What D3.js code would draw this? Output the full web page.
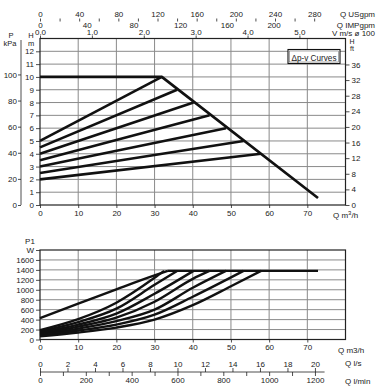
<!DOCTYPE html>
<html><head><meta charset="utf-8">
<script src="https://cdn.jsdelivr.net/npm/d3@7"></script>
<style>
body{margin:0;background:#fff;}
svg text{font-family:"Liberation Sans",Arial,sans-serif;fill:#222;}
</style></head>
<body><svg id="c" width="381" height="390"></svg>
<script>
// ---------- data ----------
const qTicks = [0,10,20,30,40,50,60,70];
const hTicks = [0,1,2,3,4,5,6,7,8,9,10,11,12];
const kpaTicks = [0,20,40,60,80,100];
const ftTicks = [0,4,8,12,16,20,24,28,32,36];
const usgpmTicks = [0,40,80,120,160,200,240,280];
const impTicks = [0,40,80,120,160,200];
const velTicks = [0,1,2,3,4,5];
const wTicks = [0,200,400,600,800,1000,1200,1400,1600];
const lsTicks = [0,2,4,6,8,10,12,14,16,18,20];
const lminTicks = [0,200,400,600,800,1000,1200];

// head curves (Q m3/h, H m)
const maxHead = [[0,10],[31.9,10],[72.8,0.55]];
const dpvStartH = [5,4.5,4,3.5,3,2.5,2];
const dpvEndQ = [31.9,35.9,40.2,44.4,48.7,53.3,57.9];
const dpvEndH = [10,9,8,7,6,5,4];

// power curves (Q m3/h, P1 W)
const powerMax = [[0,430],[10,720],[20,1010],[30,1290],[33.5,1380]];
const powerFlat = [[33.5,1380],[72.8,1380]];
const powerDpv = [
  [[0,190],[10,410],[20,740],[30,1240],[32.5,1380]],
  [[0,165],[10,350],[20,620],[30,1100],[35.9,1380]],
  [[0,145],[10,300],[20,520],[30,920],[40.2,1380]],
  [[0,125],[10,260],[20,440],[30,760],[40,1220],[44.4,1380]],
  [[0,105],[10,220],[20,370],[30,600],[40,1040],[48.7,1380]],
  [[0,85],[10,180],[20,300],[30,500],[40,860],[53.3,1380]],
  [[0,65],[10,140],[20,240],[30,400],[40,690],[50,1070],[57.9,1380]]
];

// unit conversions
const KPA_PER_M = 9.81, FT_PER_M = 3.2808;
const USGPM_PER_M3H = 3.9, IMP_PER_M3H = 3.27, V_PER_M3H = 0.0736;
const LS_PER_M3H = 1/3.6, LMIN_PER_M3H = 1000/60;

// ---------- drawing ----------
const svg = d3.select("#c");
const FS = 8;
const x = d3.scaleLinear().domain([0,80]).range([40,345.5]);
const yH = d3.scaleLinear().domain([0,13]).range([205,38.5]);
const yP = d3.scaleLinear().domain([0,1800]).range([339.5,250]);
const gridC = "#8a8a8a";

function styleAxis(g, fs){
  g.selectAll("text").attr("font-size", fs||FS).attr("fill","#222");
  g.selectAll("line,path").attr("stroke","#222").attr("stroke-width",0.8);
}
function label(t,xx,yy,anchor,fs){
  return svg.append("text").attr("x",xx).attr("y",yy).attr("font-size",fs||FS)
    .attr("text-anchor",anchor||"start").text(t);
}

// ---- top chart grid ----
const gTop = svg.append("g");
gTop.selectAll("line.v").data(d3.range(10,80,10)).join("line")
  .attr("x1",d=>x(d)).attr("x2",d=>x(d)).attr("y1",yH(13)).attr("y2",yH(0))
  .attr("stroke",gridC).attr("stroke-width",1);
gTop.selectAll("line.h").data(hTicks.slice(1)).join("line")
  .attr("x1",x(0)).attr("x2",x(80)).attr("y1",d=>yH(d)).attr("y2",d=>yH(d))
  .attr("stroke",gridC).attr("stroke-width",1);
gTop.append("rect").attr("x",x(0)).attr("y",yH(13)).attr("width",x(80)-x(0)).attr("height",yH(0)-yH(13))
  .attr("fill","none").attr("stroke","#222").attr("stroke-width",1.2);

// bottom x axis (top chart)
const axQ1 = svg.append("g").attr("transform",`translate(0,${yH(0)})`)
  .call(d3.axisBottom(x).tickValues(qTicks).tickSize(3).tickPadding(2));
axQ1.select(".domain").remove(); styleAxis(axQ1);
const ql1 = svg.append("text").attr("x",333).attr("y",218).attr("font-size",FS);
ql1.append("tspan").text("Q m");
ql1.append("tspan").attr("dy",-3).attr("font-size",6).text("3");
ql1.append("tspan").attr("dy",3).text("/h");

// left H m axis
const axH = svg.append("g").attr("transform",`translate(${x(0)},0)`)
  .call(d3.axisLeft(yH).tickValues(hTicks).tickSize(4).tickPadding(2));
axH.select(".domain").remove(); styleAxis(axH);
label("H",31,37.5,"middle",7.5);
label("m",31,45.5,"middle",7.5);

// left P kPa axis
const yKpa = d3.scaleLinear().domain([0,13*KPA_PER_M]).range([205,38.5]);
const axK = svg.append("g").attr("transform",`translate(21,0)`)
  .call(d3.axisLeft(yKpa).tickValues(kpaTicks).tickSize(3).tickPadding(1));
axK.select(".domain").remove(); styleAxis(axK);
svg.append("line").attr("x1",21).attr("x2",21).attr("y1",40).attr("y2",yH(0)).attr("stroke","#222").attr("stroke-width",0.8);
label("P",11,37.5,"middle",7.5);
label("kPa",10,45.5,"middle",7.5);

// right H ft axis
const yFt = d3.scaleLinear().domain([0,13*FT_PER_M]).range([205,38.5]);
const axF = svg.append("g").attr("transform",`translate(${x(80)},0)`)
  .call(d3.axisRight(yFt).tickValues(ftTicks).tickSize(4).tickPadding(2));
axF.select(".domain").remove(); styleAxis(axF);
label("H",349.5,44,"start",7);
label("ft",350,50.5,"start",7);

// top axes
const xUS = d3.scaleLinear().domain([0,80*USGPM_PER_M3H]).range([40,345.5]);
const axUS = svg.append("g").attr("transform","translate(0,21.5)")
  .call(d3.axisTop(xUS).tickValues(d3.range(0,300,20)).tickSize(3).tickPadding(1.5)
    .tickFormat(d=>usgpmTicks.includes(d)?d:""));
axUS.select(".domain").remove(); styleAxis(axUS);
label("Q USgpm",375,17,"end");

const xIMP = d3.scaleLinear().domain([0,80*IMP_PER_M3H]).range([40,345.5]);
const axIMP = svg.append("g").attr("transform","translate(0,28.5)")
  .call(d3.axisTop(xIMP).tickValues(impTicks).tickSize(0).tickPadding(1));
axIMP.select(".domain").remove(); styleAxis(axIMP);
label("Q IMPgpm",375,27.5,"end");

const xV = d3.scaleLinear().domain([0,80*V_PER_M3H]).range([40,345.5]);
const axV = svg.append("g").attr("transform",`translate(0,${yH(13)})`)
  .call(d3.axisTop(xV).tickValues(velTicks).tickSize(3).tickPadding(0.5));
axV.select(".domain").remove(); styleAxis(axV);
label("V m/s ø 100",375,36,"end");

// head curves
const lineH = d3.line().x(d=>x(d[0])).y(d=>yH(d[1]));
svg.append("path").attr("d",lineH(maxHead)).attr("fill","none").attr("stroke","#111").attr("stroke-width",2.7).attr("stroke-linejoin","round");
dpvStartH.forEach((h0,i)=>{
  svg.append("path").attr("d",lineH([[0,h0],[dpvEndQ[i],dpvEndH[i]]]))
    .attr("fill","none").attr("stroke","#111").attr("stroke-width",2.6);
});

// legend
svg.append("rect").attr("x",288).attr("y",49.5).attr("width",52).attr("height",14)
  .attr("fill","#fff").attr("stroke","#111").attr("stroke-width",1.1);
svg.append("rect").attr("x",289.5).attr("y",51).attr("width",49).attr("height",11)
  .attr("fill","#fff").attr("stroke","#555").attr("stroke-width",0.5);
svg.append("text").attr("x",291.5).attr("y",60.5).attr("font-size",9.5)
  .attr("textLength",45).attr("lengthAdjust","spacingAndGlyphs").text("Δp-v Curves");

// ---- bottom chart ----
const gB = svg.append("g");
gB.selectAll("line.v").data(d3.range(10,80,10)).join("line")
  .attr("x1",d=>x(d)).attr("x2",d=>x(d)).attr("y1",yP(1800)).attr("y2",yP(0))
  .attr("stroke",gridC).attr("stroke-width",1);
gB.selectAll("line.h").data(wTicks.slice(1)).join("line")
  .attr("x1",x(0)).attr("x2",x(80)).attr("y1",d=>yP(d)).attr("y2",d=>yP(d))
  .attr("stroke",gridC).attr("stroke-width",1);
gB.append("rect").attr("x",x(0)).attr("y",yP(1800)).attr("width",x(80)-x(0)).attr("height",yP(0)-yP(1800))
  .attr("fill","none").attr("stroke","#222").attr("stroke-width",1.2);

const axW = svg.append("g").attr("transform",`translate(${x(0)},0)`)
  .call(d3.axisLeft(yP).tickValues(wTicks.concat([1800])).tickSize(4).tickPadding(2)
    .tickFormat(d=>d===1800?"W":d));
axW.select(".domain").remove(); styleAxis(axW);
label("P1",30,244,"middle");

const axQ2 = svg.append("g").attr("transform",`translate(0,${yP(0)})`)
  .call(d3.axisBottom(x).tickValues(qTicks).tickSize(3).tickPadding(2));
axQ2.select(".domain").remove(); styleAxis(axQ2);
label("Q m3/h",338,353);

// l/s and l/min axes
const xLs = d3.scaleLinear().domain([0,80*LS_PER_M3H]).range([40,345.5]);
const xLmin = d3.scaleLinear().domain([0,80*LMIN_PER_M3H]).range([40,345.5]);
svg.append("line").attr("x1",40).attr("x2",xLs(20.7)).attr("y1",372).attr("y2",372).attr("stroke","#222").attr("stroke-width",0.8);
const axLs = svg.append("g").attr("transform","translate(0,372)")
  .call(d3.axisTop(xLs).tickValues(lsTicks).tickSize(4).tickPadding(1));
axLs.select(".domain").remove(); styleAxis(axLs);
const axLm = svg.append("g").attr("transform","translate(0,372)")
  .call(d3.axisBottom(xLmin).tickValues(d3.range(0,1300,100)).tickSize(4).tickPadding(1)
    .tickFormat(d=>lminTicks.includes(d)?d:""));
axLm.select(".domain").remove(); styleAxis(axLm);
label("Q l/s",345,366);
label("Q l/min",345,384);

// power curves
const lineP = d3.line().x(d=>x(d[0])).y(d=>yP(d[1])).curve(d3.curveMonotoneX);
const pw = 2.4;
svg.append("path").attr("d",lineP(powerMax)).attr("fill","none").attr("stroke","#111").attr("stroke-width",pw);
svg.append("path").attr("d",d3.line().x(d=>x(d[0])).y(d=>yP(d[1]))(powerFlat)).attr("fill","none").attr("stroke","#111").attr("stroke-width",pw);
powerDpv.forEach(c=>{
  svg.append("path").attr("d",lineP(c)).attr("fill","none").attr("stroke","#111").attr("stroke-width",pw);
});
</script></body></html>
